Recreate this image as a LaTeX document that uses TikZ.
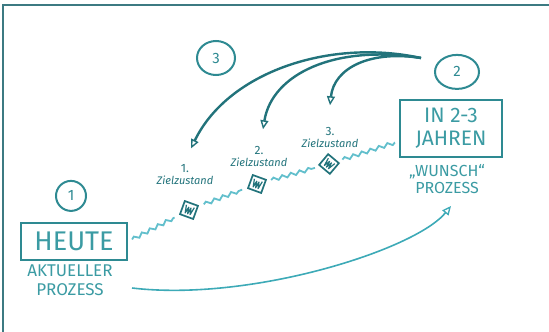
\documentclass[tikz,border=0pt]{standalone}
\usepackage{fontspec}
\setmainfont{Fira Sans}
\usetikzlibrary{arrows.meta, positioning, shapes.geometric, decorations.pathmorphing}
\definecolor{frameteal}{HTML}{3C7A82}
\definecolor{boxteal}{HTML}{2E8A92}
\definecolor{inkteal}{HTML}{3B9BA3}
\definecolor{arrowteal}{HTML}{22737B}
\definecolor{wavecyan}{HTML}{62BFCC}
\definecolor{nowteal}{HTML}{3DAAB7}
\tikzset{
  frame line/.style={
    line width=2pt,
    color=frameteal
  },
  state box/.style={
    draw=boxteal,
    line width=2.2pt,
    text=inkteal,
    inner sep=0pt,
    align=center
  },
  state note/.style={
    text=inkteal,
    align=center,
    inner sep=1pt,
    font=\fontsize{17}{19}\selectfont
  },
  num ring/.style={
    ellipse,
    draw=boxteal,
    line width=2pt,
    inner sep=0pt,
    text=boxteal,
    font=\fontsize{15}{15}\selectfont
  },
  goal text/.style={
    text=arrowteal,
    inner sep=1.5pt,
    font=\fontsize{11}{11}\selectfont\itshape
  },
  goal num/.style={
    text=arrowteal,
    inner sep=1.5pt,
    font=\fontsize{12}{12}\selectfont
  },
  goal icon/.style={
    draw=arrowteal,
    line width=1.7pt,
    minimum size=14pt,
    inner sep=0pt,
    outer sep=5pt
  },
  icon ink/.style={
    arrowteal,
    line width=1.2pt,
    line join=round
  },
  wave/.style={
    decorate,
    decoration={snake, amplitude=1.8pt, segment length=9pt},
    line width=1.8pt,
    color=wavecyan
  },
  goal arrow/.style={
    -{Triangle[open, length=9pt, width=8pt, line width=1.4pt]},
    line width=2.4pt,
    color=arrowteal
  },
  now arrow/.style={
    -{Triangle[open, length=9pt, width=8pt, line width=1.3pt]},
    line width=1.6pt,
    color=nowteal
  }
}
\begin{document}
\begin{tikzpicture}[x=1pt, y=-1pt]
  \useasboundingbox (0,0) rectangle (549,332);

  % Rahmen
  \draw[frame line] (549,5) -- (3,5) -- (3,332);

  % heute
  \node[state box, minimum width=106pt, minimum height=37pt,
        font=\fontsize{27}{27}\selectfont] (heute box) at (74,241.5) {HEUTE};
  \node[state note, below=2pt of heute box, xshift=-4pt] (heute note) {AKTUELLER\\PROZESS};
  \node[num ring, minimum size=30pt, above=10pt of heute box, xshift=-3pt] (ring1) {1};

  % in 2-3 jahren
  \node[state box, minimum width=102pt, minimum height=57pt,
        font=\fontsize{21}{23}\selectfont] (wish box) at (451,128.5) {IN 2-3\\JAHREN};
  \node[state note, below=5pt of wish box, xshift=-4pt,
        font=\fontsize{16}{17}\selectfont] (wish note) {„WUNSCH“\\PROZESS};
  \node[num ring, minimum width=44pt, minimum height=34pt, above=9pt of wish box, xshift=6pt] (ring2) {2};

  % zwischenschritte
  \node[num ring, minimum width=38pt, minimum height=34pt] (ring3) at (216,58) {3};

  \node[goal text] (goal1) at (185,180) {Zielzustand};
  \node[goal num, above=0pt of goal1] (num1) {1.};
  \node[goal text] (goal2) at (259,162) {Zielzustand};
  \node[goal num, above=0pt of goal2] (num2) {2.};
  \node[goal text] (goal3) at (330,143) {Zielzustand};
  \node[goal num, above=0pt of goal3] (num3) {3.};

  \node[goal icon, rotate=-20] (icon1) at (189,210) {};
  \node[goal icon, rotate=-20] (icon2) at (257,184) {};
  \node[goal icon, rotate=-40] (icon3) at (329,164) {};
  \foreach \n/\a in {icon1/-20, icon2/-20, icon3/-40}
    \draw[icon ink, shift={(\n.center)}, rotate=\a]
      (-4.2,-4) -- (-2.6,4) -- (-1.2,-2.5) -- (0,4) -- (1.2,-2.5) -- (2.6,4) -- (4.2,-4);

  % wellenweg
  \draw[wave] ([shift={(4pt,2pt)}]heute box.east) -- (icon1);
  \draw[wave] (icon1) -- (icon2);
  \draw[wave] (icon2) -- (icon3);
  \draw[wave] (icon3) -- ([shift={(-4pt,-14pt)}]wish box.west);

  % pfeile von 2 zu den zielzustaenden
  \coordinate (wish root) at (421,58);
  \draw[goal arrow] (wish root) .. controls (330,38) and (228,72) .. ([shift={(6pt,14pt)}]num1.north);
  \draw[goal arrow] (wish root) .. controls (335,44) and (272,74) .. ([shift={(4pt,15pt)}]num2.north);
  \draw[goal arrow] (wish root) .. controls (370,50) and (334,68) .. ([shift={(0pt,20pt)}]num3.north);

  % direkter weg
  \coordinate (now root) at (132,288);
  \coordinate (wish tip) at (451,206);
  \draw[now arrow] (now root) .. controls (250,302) and (415,250) .. (wish tip);
\end{tikzpicture}
\end{document}
